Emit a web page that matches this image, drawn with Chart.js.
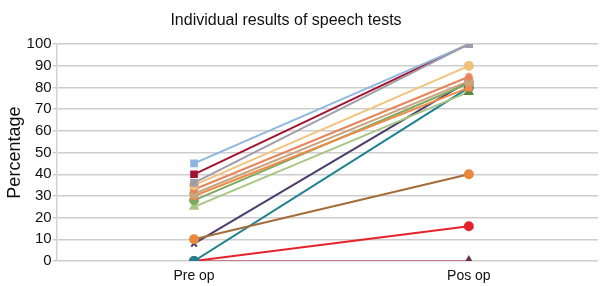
<!DOCTYPE html>
<html><head><meta charset="utf-8">
<script src="https://cdn.jsdelivr.net/npm/chart.js@4/dist/chart.umd.min.js"></script>
<style>html,body{margin:0;padding:0;background:#fff;}canvas{display:block;}</style>
</head><body>
<canvas id="c" width="604" height="286"></canvas>
<script>
const categories = ["Pre op", "Pos op"];
const yTicks = [0,10,20,30,40,50,60,70,80,90,100];
const s01 = [45, 100];
const s02 = [36, 100];
const s03 = [40, 100];
const s04 = [35, 90];
const s05 = [33, 85];
const s06 = [31, 83];
const s07 = [30, 80];
const s08 = [28, 82];
const s09 = [25, 78];
const s10 = [10, 40];
const s11 = [8, 83];
const s12 = [0, 80];
const s13 = [0, 16];
const s14 = [0, 0];

const series = [
  {d:s02, c:'#A09CA8', m:'rect'},
  {d:s01, c:'#8FB6DE', m:'rect'},
  {d:s04, c:'#F2C27C', m:'circle'},
  {d:s05, c:'#E8845A', m:'star'},
  {d:s06, c:'#C9A47E', m:'circle'},
  {d:s07, c:'#F08A48', m:'rect'},
  {d:s08, c:'#7FA860', m:'circle'},
  {d:s09, c:'#A8C584', m:'triangle'},
  {d:s03, c:'#A3122E', m:'rect'},
  {d:s10, c:'#A46C3A', m:'circle'},
  {d:s11, c:'#4B3E6E', m:'crossRot'},
  {d:s12, c:'#1E8090', m:'circle'},
  {d:s13, c:'#E4232D', m:'circle'},
  {d:s14, c:'#C97A8A', m:'triangle'}
];
const ptColors = {7:['#A8C584','#5B8A3C'], 9:['#E8883A','#E8883A'], 13:['#6E2E4E','#6E2E4E']};

const titleShift = {
  id: 'titleShift',
  afterLayout(chart) {
    const t = chart.titleBlock;
    if (t) { t.right -= 32; t.width -= 32; }
  }
};

const FONT = 'Liberation Sans, Arial, sans-serif';

new Chart(document.getElementById('c'), {
  type: 'line',
  data: {
    datasets: series.map((s,i)=>({
      data: s.d.map((v,j)=>({x:j, y:v})),
      borderColor: s.c,
      backgroundColor: ptColors[i] ? ptColors[i] : s.c,
      pointBorderColor: ptColors[i] ? ptColors[i] : s.c,
      pointStyle: i===13 ? [false,'triangle'] : s.m,
      pointRadius: 4,
      borderWidth: 2,
      tension: 0
    }))
  },
  plugins: [titleShift],
  options: {
    responsive: false,
    animation: false,
    layout: {padding: {left: 4, right: 4, top: 0, bottom: 0}},
    plugins: {
      legend: {display: false},
      tooltip: {enabled: false},
      title: {display: true, text: 'Individual results of speech tests', color:'#111',
        font: {family: FONT, size: 16, weight: 'normal'},
        padding: {top: 11, bottom: 14}}
    },
    scales: {
      x: {
        type: 'linear',
        min: -0.5, max: 1.47,
        afterBuildTicks: ax => { ax.ticks = categories.map((c,j)=>({value:j})); },
        afterFit: ax => { ax.height = 25; },
        grid: {display: false, drawTicks: false},
        border: {display: false},
        ticks: {color: '#111', padding: 7, autoSkip: false, maxRotation: 0,
          callback: v => categories[v],
          font: {family: FONT, size: 14}}
      },
      y: {
        min: 0, max: 100,
        afterBuildTicks: ax => { ax.ticks = yTicks.map(v=>({value:v})); },
        grid: {color: '#cdcdcd', lineWidth: 1.5, tickLength: 4},
        border: {color: '#d2d2d2', width: 1.5},
        ticks: {color: '#111', padding: 1, font: {family: FONT, size: 15}},
        title: {display: true, text: 'Percentage', color:'#111', padding: 0,
          font: {family: FONT, size: 18}}
      }
    }
  }
});
</script>
</body></html>
